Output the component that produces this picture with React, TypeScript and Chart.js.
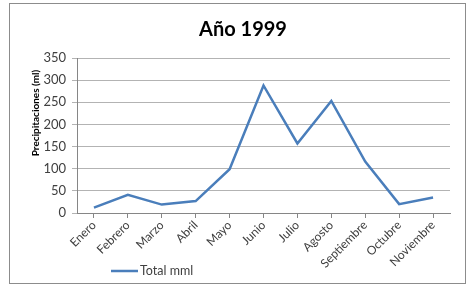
import React, { useEffect, useRef } from "react";
import { Chart, registerables } from "chart.js";

Chart.register(...registerables);

const months = ["Enero", "Febrero", "Marzo", "Abril", "Mayo", "Junio", "Julio", "Agosto", "Septiembre", "Octubre", "Noviembre"];
const totalMml = [12, 41, 19, 27, 99, 288, 157, 253, 116, 20, 35];
const chartTitle = "Año 1999";
const yAxisTitle = "Precipitaciones (ml)";
const seriesName = "Total mml";
const yMax = 350;
const yStep = 50;

const FONT = "Lato, 'Liberation Sans', sans-serif";
const LINE_COLOR = "#4a7ebb";

const decorPlugin = {
  id: "decor",
  afterDraw(chart: any) {
    const ctx = chart.ctx;
    const area = chart.chartArea;
    ctx.save();
    // title
    ctx.fillStyle = "#000";
    ctx.font = `bold 20px ${FONT}`;
    ctx.textAlign = "center";
    ctx.textBaseline = "middle";
    ctx.fillText(chartTitle, 243, 30);
    // y axis title
    ctx.save();
    ctx.translate(36, 113);
    ctx.rotate(-Math.PI / 2);
    ctx.font = `bold 10px ${FONT}`;
    ctx.fillText(yAxisTitle, 0, 0);
    ctx.restore();
    // legend
    ctx.strokeStyle = LINE_COLOR;
    ctx.lineWidth = 2.5;
    ctx.beginPath();
    ctx.moveTo(111, 271);
    ctx.lineTo(138, 271);
    ctx.stroke();
    ctx.fillStyle = "#404040";
    ctx.font = `12.5px ${FONT}`;
    ctx.textAlign = "left";
    ctx.fillText(seriesName, 140, 271);
    ctx.restore();
  },
};

export default function App() {
  const ref = useRef<HTMLCanvasElement>(null);
  useEffect(() => {
    if (!ref.current) return;
    const chart = new Chart(ref.current, {
      type: "line",
      data: {
        labels: months,
        datasets: [
          {
            label: seriesName,
            data: totalMml,
            borderColor: LINE_COLOR,
            backgroundColor: LINE_COLOR,
            borderWidth: 2.5,
            pointRadius: 0,
            tension: 0,
          },
        ],
      },
      options: {
        animation: false,
        responsive: false,
        maintainAspectRatio: false,
        layout: { padding: { left: 40, top: 58, right: 17, bottom: 0 } },
        plugins: { legend: { display: false }, title: { display: false }, tooltip: { enabled: false } },
        scales: {
          x: {
            offset: true,
            grid: { display: true, drawOnChartArea: false, drawTicks: true, tickLength: 5, color: "#868686" },
            border: { display: true, color: "#868686" },
            ticks: {
              minRotation: 45,
              maxRotation: 45,
              autoSkip: false,
              color: "#404040",
              font: { family: FONT, size: 12 },
              padding: 0,
            },
            afterFit(scale: any) {
              scale.height = 72;
            },
          },
          y: {
            min: 0,
            max: yMax,
            ticks: { stepSize: yStep, color: "#404040", font: { family: FONT, size: 13 }, padding: 6 },
            grid: { color: "#b3b3b3", tickLength: 5, drawTicks: true },
            border: { display: true, color: "#868686" },
            afterFit(scale: any) {
              scale.width = 37;
            },
          },
        },
      },
      plugins: [decorPlugin],
    });
    return () => chart.destroy();
  }, []);
  return (
    <div style={{ position: "fixed", left: 0, top: 0, width: 467, height: 285, background: "#fff" }}>
      <canvas ref={ref} width={467} height={285} style={{ position: "absolute", left: 0, top: 0 }} />
      <div
        style={{
          position: "absolute",
          left: 9,
          top: 3,
          width: 455,
          height: 279,
          border: "1px solid #8c8c8c",
          pointerEvents: "none",
        }}
      />
    </div>
  );
}
